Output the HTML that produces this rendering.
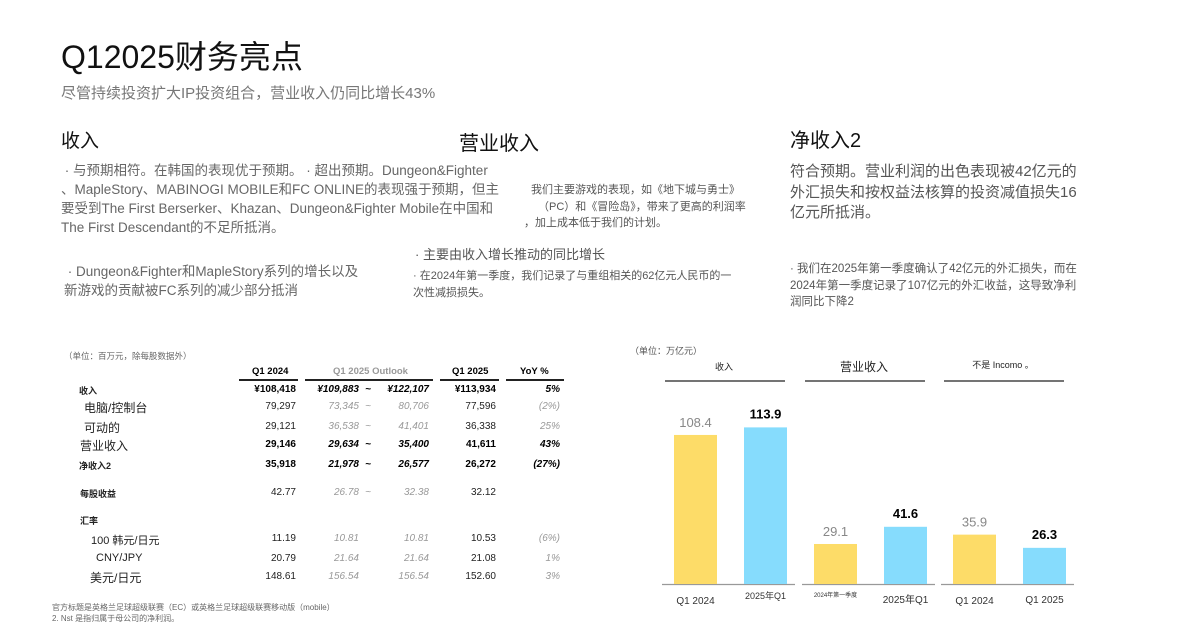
<!DOCTYPE html>
<html><head><meta charset="utf-8"><style>
body{margin:0;width:1178px;height:633px;background:#fff;position:relative;overflow:hidden;font-family:"Liberation Sans","Noto Sans CJK SC",sans-serif;}
.a{position:absolute;white-space:nowrap;}
.t td{padding:0}
.c{position:absolute;white-space:nowrap;text-align:right;font-size:10px;color:#222}
.g{color:#999;font-style:italic}
.b{font-weight:bold;color:#000}
</style></head><body>
<div class="a" style="left:61px;top:32px;font-size:32px;color:#111;">Q12025财务亮点</div>
<div class="a" style="left:61px;top:82px;font-size:15px;color:#777;">尽管持续投资扩大IP投资组合，营业收入仍同比增长43%</div>

<div class="a" style="left:61px;top:126px;font-size:19px;color:#111;">收入</div>
<div class="a" style="left:61px;top:161px;font-size:13.5px;line-height:19px;color:#666;">&nbsp;· 与预期相符。在韩国的表现优于预期。 · 超出预期。Dungeon&amp;Fighter<br>、MapleStory、MABINOGI MOBILE和FC ONLINE的表现强于预期，但主<br>要受到The First Berserker、Khazan、Dungeon&amp;Fighter Mobile在中国和<br>The First Descendant的不足所抵消。</div>
<div class="a" style="left:64px;top:262px;font-size:13.5px;line-height:19px;color:#666;">&nbsp;· Dungeon&amp;Fighter和MapleStory系列的增长以及<br>新游戏的贡献被FC系列的减少部分抵消</div>

<div class="a" style="left:459px;top:127px;font-size:20px;color:#111;">营业收入</div>
<div class="a" style="left:531px;top:181px;font-size:11px;color:#555;">我们主要游戏的表现，如《地下城与勇士》</div>
<div class="a" style="left:538px;top:198px;font-size:11px;color:#555;">（PC）和《冒险岛》，带来了更高的利润率</div>
<div class="a" style="left:524px;top:214px;font-size:11px;color:#555;">，加上成本低于我们的计划。</div>
<div class="a" style="left:415px;top:244px;font-size:13px;color:#555;">· 主要由收入增长推动的同比增长</div>
<div class="a" style="left:413px;top:268px;font-size:11px;line-height:17px;color:#555;">· 在2024年第一季度，我们记录了与重组相关的62亿元人民币的一<br>次性减损损失。</div>

<div class="a" style="left:790px;top:124px;font-size:20px;color:#111;">净收入2</div>
<div class="a" style="left:790px;top:162px;font-size:15px;line-height:20.5px;color:#555;">符合预期。营业利润的出色表现被42亿元的<br>外汇损失和按权益法核算的投资减值损失16<br>亿元所抵消。</div>
<div class="a" style="left:790px;top:261px;font-size:11.5px;line-height:16.5px;color:#555;">· 我们在2025年第一季度确认了42亿元的外汇损失，而在<br>2024年第一季度记录了107亿元的外汇收益，这导致净利<br>润同比下降2</div>

<!-- table -->
<div class="a" style="left:64px;top:350px;font-size:8.5px;color:#666;">（单位：百万元，除每股数据外）</div>
<div class="a" style="left:252px;top:366px;font-size:9.5px;font-weight:bold;">Q1 2024</div>
<div class="a" style="left:333px;top:366px;font-size:9.5px;color:#999;font-weight:bold;">Q1 2025 Outlook</div>
<div class="a" style="left:452px;top:366px;font-size:9.5px;font-weight:bold;">Q1 2025</div>
<div class="a" style="left:520px;top:366px;font-size:9.5px;font-weight:bold;">YoY %</div>
<div class="a" style="left:239px;top:379px;width:59px;height:1.5px;background:#222"></div>
<div class="a" style="left:305px;top:379px;width:128px;height:1.5px;background:#222"></div>
<div class="a" style="left:440px;top:379px;width:59px;height:1.5px;background:#222"></div>
<div class="a" style="left:506px;top:379px;width:58px;height:1.5px;background:#222"></div>
<div id="tbl"></div>
<div class="a" style="left:52px;top:602px;font-size:8px;color:#666;">官方标题是英格兰足球超级联赛（EC）或英格兰足球超级联赛移动版（mobile）</div>
<div class="a" style="left:52px;top:613px;font-size:8px;color:#666;">2. Nst 是指归属于母公司的净利润。</div>

<svg id="chart" width="1178" height="633" style="position:absolute;left:0;top:0" font-family="Liberation Sans, Noto Sans CJK SC, sans-serif"></svg>

<script>
// table data
const rowLabels=["收入","电脑/控制台","可动的","营业收入","净收入2","每股收益","汇率","100 韩元/日元","CNY/JPY","美元/日元"];
const q12024=["¥108,418","79,297","29,121","29,146","35,918","42.77","","11.19","20.79","148.61"];
const outlookLow=["¥109,883","73,345","36,538","29,634","21,978","26.78","","10.81","21.64","156.54"];
const outlookHigh=["¥122,107","80,706","41,401","35,400","26,577","32.38","","10.81","21.64","156.54"];
const q12025=["¥113,934","77,596","36,338","41,611","26,272","32.12","","10.53","21.08","152.60"];
const yoy=["5%","(2%)","25%","43%","(27%)","","","(6%)","1%","3%"];
const rowY=[391,408,428,446,466,494,521,540,560,578];
const labelX=[79,84,84,80,79,80,80,91,96,90];
const labelSize=[9,12,12,12,9,9,9,11,11,12];
const boldRows=[0,3,4];
const tbl=document.getElementById('tbl');
function cell(txt,right,y,cls,name){
  const d=document.createElement('div');
  
  
  d.className='c '+cls;d.textContent=txt;
  d.style.right=(1178-right)+'px';d.style.top=(y-7)+'px';
  tbl.appendChild(d);
}
rowLabels.forEach((l,i)=>{
  const d=document.createElement('div');
  
  
  d.className='a';d.textContent=l;
  d.style.left=labelX[i]+'px';d.style.top=(rowY[i]-labelSize[i]*0.75)+'px';
  d.style.fontSize=labelSize[i]+'px';d.style.color='#222';
  if(labelSize[i]<10)d.style.fontWeight='bold';
  tbl.appendChild(d);
  const b=boldRows.includes(i)?' b':'';
  cell(q12024[i],296,rowY[i],b,'cell-q1-2024');
  cell(outlookLow[i],359,rowY[i],'g'+b,'cell-outlook-low');
  if(outlookLow[i] && i<6) cell('~',371,rowY[i],'g'+b,'outlook-tilde');
  cell(outlookHigh[i],429,rowY[i],'g'+b,'cell-outlook-high');
  cell(q12025[i],496,rowY[i],b,'cell-q1-2025');
  cell(yoy[i],560,rowY[i],'g'+b,'cell-yoy');
});

// chart data
const groupTitles=["收入","营业收入","不是 Incomo 。"];
const prevValues=[108.4,29.1,35.9];
const currValues=[113.9,41.6,26.3];
const prevLabels=["Q1 2024","2024年第一季度","Q1 2024"];
const currLabels=["2025年Q1","2025年Q1","Q1 2025"];
const svg=document.getElementById('chart');
const NS='http://www.w3.org/2000/svg';
const baseY=584, scale=1.375;
const y=v=>baseY-v*scale;
const groupX=[674,814,953];
function el(tag,attrs,name){const e=document.createElementNS(NS,tag);for(const k in attrs)e.setAttribute(k,attrs[k]);
  
  
  svg.appendChild(e);return e;}
function txt(x,yy,s,attrs,name){const e=el('text',Object.assign({x:x,y:yy,'text-anchor':'middle'},attrs),name);e.textContent=s;return e;}
txt(630,354,'（单位：万亿元）',{'text-anchor':'start','font-size':9,fill:'#555'},'chart-unit');
groupTitles.forEach((t,i)=>{
  const gx=groupX[i];
  txt(gx+50,[370,371,368][i],t,{'font-size':[9,12,9][i],fill:'#222'},'group-title');
  el('line',{x1:gx-9,x2:gx+111,y1:381,y2:381,stroke:'#222','stroke-width':1.2},'group-title-rule');
  el('line',{x1:gx-12,x2:gx+121,y1:baseY+0.5,y2:baseY+0.5,stroke:'#999','stroke-width':1.2},'baseline');
  el('rect',{x:gx,y:y(prevValues[i]),width:43,height:prevValues[i]*scale,fill:'#fddc68'},'bar-prev');
  el('rect',{x:gx+70,y:y(currValues[i]),width:43,height:currValues[i]*scale,fill:'#86dcfd'},'bar-curr');
  txt(gx+21.5,y(prevValues[i])-8,prevValues[i].toFixed(1),{'font-size':13,fill:'#888'},'value-prev');
  txt(gx+91.5,y(currValues[i])-9,currValues[i].toFixed(1),{'font-size':13,'font-weight':'bold',fill:'#000'},'value-curr');
  txt(gx+21.5,i===1?597:604,prevLabels[i],{'font-size':i===1?6:10,fill:'#333'},'x-label-prev');
  txt(gx+91.5,i===0?599:603,currLabels[i],{'font-size':i===0?9:10,fill:'#333'},'x-label-curr');
});
</script>
</body></html>
